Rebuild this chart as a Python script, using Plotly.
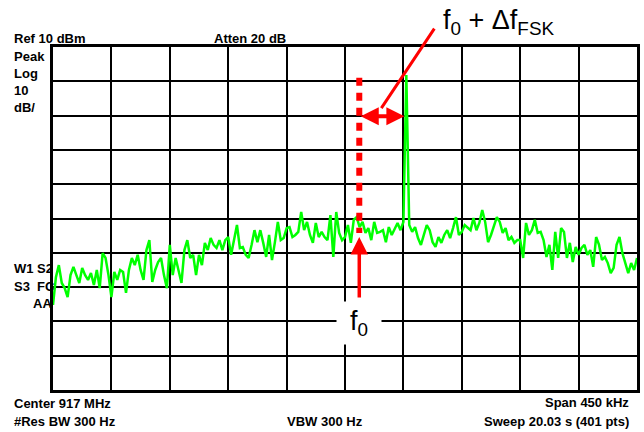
import plotly.graph_objects as go

# ---- instrument settings ----
CENTER_MHZ = 917.0
SPAN_MHZ = 0.450
REF_DBM = 10
DB_PER_DIV = 10
N_DIV = 10

level_dbm = [
    -65.2, -57.1, -53.6, -58.8, -60.3, -62.9, -56.5, -54.1, -56.5, -58.8,
    -54.4, -56.5, -57.9, -55.9, -59.4, -55.0, -60.3, -50.1, -51.5, -56.5,
    -62.9, -55.6, -57.9, -55.0, -55.6, -61.7, -55.0, -51.5, -53.6, -50.6,
    -55.0, -57.9, -49.2, -46.3, -58.5, -55.0, -52.7, -51.5, -56.5, -60.3,
    -47.7,
    -56.5, -51.5, -55.6, -58.8, -49.2, -46.3, -51.5, -50.6, -56.5, -50.6,
    -53.6, -47.1, -49.2, -45.7, -47.7, -48.6, -46.3, -49.2, -46.3, -45.4,
    -50.6, -45.7, -41.9, -48.6, -48.3, -50.6, -51.5, -47.7, -43.4, -46.9,
    -43.4, -47.1, -51.2, -44.8, -52.1, -46.9, -41.0, -46.3, -45.7, -42.8,
    -42.5, -45.4, -44.8, -43.9, -38.1, -43.4, -41.0, -44.8, -47.1, -41.3,
    -45.4, -43.9, -45.4, -46.3, -39.0, -51.2, -38.1, -44.2, -46.3, -45.4,
    -41.9, -47.1, -40.4, -39.6, -42.5, -41.0, -44.2, -42.8, -46.3, -41.0,
    -44.2, -43.9, -43.4, -46.9, -42.5, -44.8, -42.8, -41.3, -43.4, -41.0,
    1.8,
    -41.9, -43.9, -42.5, -45.7, -47.7, -44.8, -41.9, -43.4, -46.9, -48.3,
    -45.4, -47.1, -44.8, -43.4, -45.7, -42.8, -39.6, -44.8, -43.9, -41.9,
    -42.8, -43.4, -39.9, -43.4, -41.3, -37.5, -41.0, -46.9, -44.8, -41.9,
    -39.6, -41.0, -44.2, -42.8, -46.3, -45.4, -47.1, -46.3, -46.3,
    -51.5, -41.3, -44.8, -43.4, -40.4, -44.2, -43.9, -46.3, -51.2, -47.7,
    -55.0, -43.9, -51.5, -42.8, -43.9, -51.5, -47.1, -52.7, -48.3, -50.6,
    -48.6, -47.7, -50.6, -49.2, -54.1, -45.4, -47.7, -52.1, -51.2, -53.0,
    -55.9, -54.4, -47.7, -45.4, -50.1, -52.7, -55.9, -53.0, -55.0, -51.5,
]

# ---- markers ----
F0_MHZ = 917.0110        # carrier f0
FSK_MHZ = 917.04725      # f0 + delta f FSK
ARROW_DBM = -10.2        # level of the double arrow
DASH_TOP_DBM = 1.0
DASH_BOTTOM_DBM = -44.2

# ---- screen annotation texts ----
top_texts = ["Ref 10 dBm", "Atten 20 dB"]
left_texts = ["Peak", "Log", "10", "dB/"]
side_texts = ["W1 S2", "S3  FC", "AA"]
bottom_left = ["Center 917 MHz", "#Res BW 300 Hz"]
bottom_mid = ["VBW 300 Hz"]
bottom_right = ["Span 450 kHz", "Sweep 20.03 s (401 pts)"]

n = len(level_dbm)
f_start = CENTER_MHZ - SPAN_MHZ / 2
f_stop = CENTER_MHZ + SPAN_MHZ / 2
freq = [f_start + i * SPAN_MHZ / (n - 1) for i in range(n)]

W, H = 644, 432
L, R, T, B = 53, 4, 47, 42
PW, PH = W - L - R, H - T - B
FONT = "Liberation Sans, Arial, sans-serif"


def px(xp):
    return (xp - L) / PW


def py(yp):
    return (H - B - yp) / PH


fig = go.Figure()
fig.add_trace(go.Scatter(x=freq, y=level_dbm, mode="lines",
                         line=dict(color="#00ff00", width=2.5),
                         showlegend=False, hoverinfo="skip"))

ann = []


def txt(t, xp, yp, anchor="left"):
    ann.append(dict(text="<b>" + t + "</b>", x=px(xp), y=py(yp), xref="paper", yref="paper",
                    xanchor=anchor, yanchor="middle", showarrow=False,
                    font=dict(family=FONT, size=13, color="black")))


txt(top_texts[0], 12, 38)
txt(top_texts[1], 213, 38)
for k, t in enumerate(left_texts):
    txt(t, 12, 56 + k * 17)
txt(side_texts[0], 12, 268)
txt(side_texts[1], 12, 286)
txt(side_texts[2], 54, 303, "right")
txt(bottom_left[0], 12, 403)
txt(bottom_left[1], 12, 421)
txt(bottom_mid[0], 286, 421)
txt(bottom_right[0], 634, 402, "right")
txt(bottom_right[1], 634, 421, "right")

# up arrow pointing at f0
ann.append(dict(x=F0_MHZ, y=-45.4, xref="x", yref="y", ax=F0_MHZ, ay=-63.5,
                axref="x", ayref="y", text="", showarrow=True,
                arrowhead=2, arrowsize=1.0, arrowwidth=3.5, arrowcolor="#ff0000"))
# double arrow f0 -> f0 + df
ann.append(dict(x=FSK_MHZ - 0.0015, y=ARROW_DBM, xref="x", yref="y",
                ax=F0_MHZ, ay=ARROW_DBM, axref="x", ayref="y", text="",
                showarrow=True, arrowside="end+start",
                arrowhead=2, startarrowhead=2, arrowsize=0.9, startarrowsize=0.9,
                arrowwidth=4, arrowcolor="#ff0000"))
# pointer line from label
ann.append(dict(x=917.028, y=-7.8, xref="x", yref="y", ax=54, ay=-81,
                text="", showarrow=True, arrowhead=0, arrowwidth=3,
                arrowcolor="#ff0000"))
# labels
ann.append(dict(text="f<sub>0</sub> + Δf<sub>FSK</sub>", x=px(443), y=py(22),
                xref="paper", yref="paper", xanchor="left", yanchor="middle",
                showarrow=False, font=dict(family=FONT, size=27, color="black")))
ann.append(dict(text="f<sub>0</sub>", x=F0_MHZ, y=-70.5, xref="x", yref="y",
                xanchor="center", yanchor="middle", showarrow=False,
                bgcolor="white", width=42, height=40,
                font=dict(family=FONT, size=27, color="black")))

fig.add_shape(type="line", x0=F0_MHZ, x1=F0_MHZ, y0=DASH_TOP_DBM, y1=DASH_BOTTOM_DBM,
              xref="x", yref="y", layer="above",
              line=dict(color="#ff0000", width=6, dash="8px,7px"))

fig.update_layout(
    width=W, height=H, margin=dict(l=L, r=R, t=T, b=B),
    paper_bgcolor="white", plot_bgcolor="white",
    annotations=ann,
    xaxis=dict(range=[f_start, f_stop], tick0=f_start, dtick=SPAN_MHZ / N_DIV,
               showgrid=True, gridcolor="black", gridwidth=2,
               showticklabels=False, ticks="", zeroline=False,
               showline=True, linecolor="black", linewidth=3, mirror=True),
    yaxis=dict(range=[REF_DBM - N_DIV * DB_PER_DIV, REF_DBM], tick0=REF_DBM, dtick=DB_PER_DIV,
               showgrid=True, gridcolor="black", gridwidth=2,
               showticklabels=False, ticks="", zeroline=False,
               showline=True, linecolor="black", linewidth=3, mirror=True),
)

fig.write_html("out.html",
               config={"displayModeBar": False},
               post_script="document.body.style.margin='0px';"
                           "document.body.style.overflow='hidden';")
